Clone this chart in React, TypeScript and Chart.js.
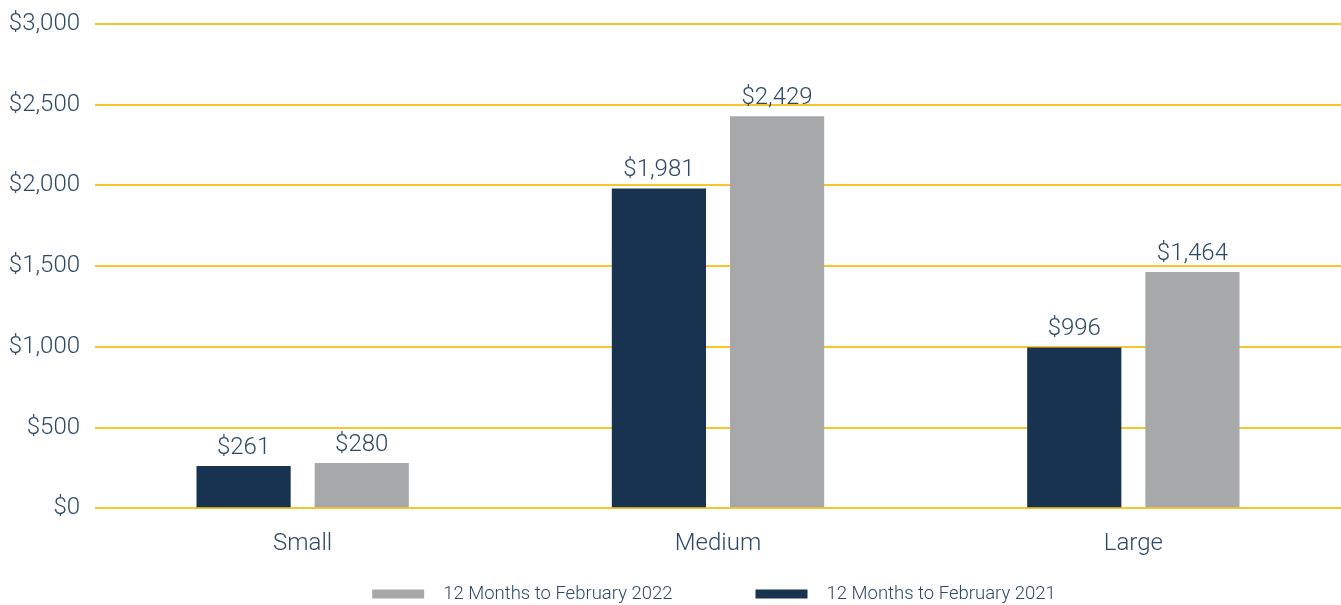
import React, { useEffect, useRef } from "react";
import { Chart, registerables } from "chart.js";

Chart.register(...registerables);

const categories = ["Small", "Medium", "Large"];
const series2021 = [261, 1981, 996];
const series2022 = [280, 2429, 1464];
const label2021 = "12 Months to February 2021";
const label2022 = "12 Months to February 2022";
const yTicks = [0, 500, 1000, 1500, 2000, 2500, 3000];

const NAVY = "#17334F";
const GRAY = "#A7A8AA";
const GRID = "#F8C52A";
const TEXT = "#2D4866";
const FAMILY = "Roboto, 'Helvetica Neue', Arial, sans-serif";

const fmt = (v: number) => "$" + v.toLocaleString("en-US");

const dataLabels = {
  id: "dataLabels",
  afterDatasetsDraw(chart: any) {
    const ctx = chart.ctx;
    ctx.save();
    ctx.font = `300 24px ${FAMILY}`;
    ctx.fillStyle = TEXT;
    ctx.textAlign = "center";
    ctx.textBaseline = "alphabetic";
    chart.data.datasets.forEach((ds: any, i: number) => {
      const meta = chart.getDatasetMeta(i);
      meta.data.forEach((bar: any, j: number) => {
        ctx.fillText(fmt(ds.data[j]), bar.x, bar.y - 12);
      });
    });
    ctx.restore();
  },
};

const customLegend = {
  id: "customLegend",
  afterDraw(chart: any) {
    const ctx = chart.ctx;
    const area = chart.chartArea;
    ctx.save();
    ctx.font = `300 18.5px ${FAMILY}`;
    const items = [
      { text: label2022, color: GRAY },
      { text: label2021, color: NAVY },
    ];
    const boxW = 52;
    const boxH = 9;
    const gap = 19;
    const spacing = 83;
    const widths = items.map((it) => boxW + gap + ctx.measureText(it.text).width);
    const total = widths[0] + spacing + widths[1];
    let x = (area.left + area.right) / 2 - total / 2 - 4;
    const y = 594;
    items.forEach((it, k) => {
      ctx.fillStyle = it.color;
      ctx.fillRect(x, y - boxH / 2, boxW, boxH);
      ctx.fillStyle = TEXT;
      ctx.textAlign = "left";
      ctx.textBaseline = "middle";
      ctx.fillText(it.text, x + boxW + gap, y);
      x += widths[k] + spacing;
    });
    ctx.restore();
  },
};

export default function App() {
  const ref = useRef<HTMLCanvasElement | null>(null);
  useEffect(() => {
    document.body.style.margin = "0";
    if (!ref.current) return;
    const chart = new Chart(ref.current, {
      type: "bar",
      data: {
        labels: categories,
        datasets: [
          {
            label: label2021,
            data: series2021,
            backgroundColor: NAVY,
            categoryPercentage: 0.569,
            barPercentage: 0.797,
          },
          {
            label: label2022,
            data: series2022,
            backgroundColor: GRAY,
            categoryPercentage: 0.569,
            barPercentage: 0.797,
          },
        ],
      },
      options: {
        animation: false,
        responsive: true,
        maintainAspectRatio: false,
        layout: { padding: { top: 24, bottom: 26, left: 0, right: 0 } },
        plugins: {
          legend: { display: false },
          tooltip: { enabled: false },
        },
        scales: {
          x: {
            grid: { display: false, drawTicks: false },
            border: { display: false },
            ticks: {
              color: TEXT,
              padding: 21,
              font: { family: FAMILY, size: 24, weight: "300" as any },
            },
          },
          y: {
            min: 0,
            max: 3000,
            afterBuildTicks: (scale: any) => {
              scale.ticks = yTicks.map((v) => ({ value: v }));
            },
            afterFit: (scale: any) => {
              scale.width = 95;
              scale.paddingTop = 0;
              scale.paddingBottom = 0;
            },
            grid: { color: GRID, lineWidth: 2, drawTicks: false },
            border: { display: false },
            ticks: {
              color: TEXT,
              padding: 15,
              font: { family: FAMILY, size: 24, weight: "300" as any },
              callback: (v: any) => fmt(Number(v)),
            },
          },
        },
      },
      plugins: [dataLabels, customLegend],
    });
    return () => chart.destroy();
  }, []);
  return (
    <div style={{ width: 1341, height: 605, position: "relative" }}>
      <canvas ref={ref} />
    </div>
  );
}
